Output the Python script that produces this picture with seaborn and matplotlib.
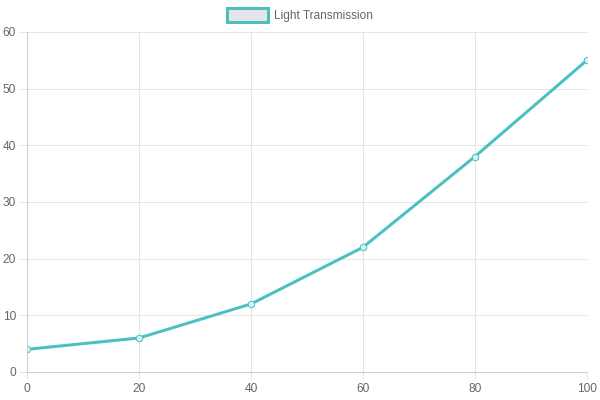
#!/usr/bin/env python3

import matplotlib
matplotlib.use("Agg")
import matplotlib.pyplot as plt
from matplotlib.patches import Patch
import pandas as pd
import seaborn as sns

THICKNESS = [0, 20, 40, 60, 80, 100]
TRANSMISSION = [4, 6, 12, 22, 38, 55]
LABEL = "Light Transmission"

TEAL = "#4bc0c0"
GRID = "#e5e5e5"
TEXT = "#666666"
PX = 72 / 100  # points per pixel at dpi 100


def main():
    sns.set_style("white")
    plt.rcParams["font.family"] = ["Liberation Sans", "DejaVu Sans"]
    data = pd.DataFrame({"x": THICKNESS, "y": TRANSMISSION})

    fig = plt.figure(figsize=(6, 4), dpi=100)
    ax = fig.add_axes([0.045, 0.07, 0.933, 0.85])
    sns.lineplot(
        data=data, x="x", y="y", ax=ax, color=TEAL, lw=3 * PX,
        marker="o", markersize=6.5 * PX, markerfacecolor="#d9f0f0",
        markeredgecolor=TEAL, markeredgewidth=1 * PX,
    )
    ax.set_xlim(0, 100)
    ax.set_ylim(0, 60)
    ax.set_xticks(THICKNESS)
    ax.set_yticks(range(0, 61, 10))
    ax.set_xlabel("")
    ax.set_ylabel("")
    ax.grid(True, color=GRID, lw=1 * PX)
    ax.set_axisbelow(True)
    for s in ax.spines.values():
        s.set_visible(False)
    for side in ["left", "bottom"]:
        ax.spines[side].set_visible(True)
        ax.spines[side].set_color("#cccccc")
        ax.spines[side].set_linewidth(1 * PX)
    ax.tick_params(axis="both", colors=GRID, labelcolor=TEXT, labelsize=8.6,
                   length=8 * PX, width=1 * PX, pad=3 * PX,
                   left=True, bottom=True)

    handle = Patch(facecolor="#e6e6ea", edgecolor=TEAL, lw=3 * PX)
    fig.legend([handle], [LABEL], loc="center", bbox_to_anchor=(0.5, 0.962),
               frameon=False, fontsize=8.6, labelcolor=TEXT, handlelength=3.4,
               handleheight=1.4, handletextpad=0.5)

    fig.savefig("out.png", dpi=100)
    plt.close(fig)


if __name__ == "__main__":
    main()
